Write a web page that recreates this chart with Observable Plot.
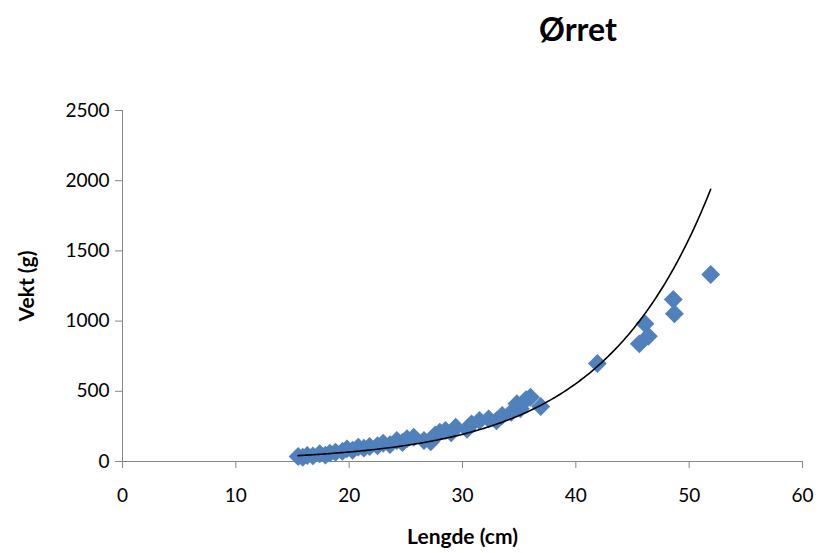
<!DOCTYPE html>
<html>
<head>
<meta charset="utf-8">
<script src="https://cdn.jsdelivr.net/npm/d3@7"></script>
<script src="https://cdn.jsdelivr.net/npm/@observablehq/plot@0.6"></script>
<style>
  html, body { margin: 0; padding: 0; background: #fff; }
  #wrap { width: 819px; height: 553px; position: relative; font-family: Lato, "Open Sans", sans-serif; }
  #title { position: absolute; left: 0; top: 0; width: 819px; height: 60px; }
  #title span { position: absolute; left: 578px; top: 9px; transform: translateX(-50%); font-size: 32px; font-weight: bold; color: #000; }
  #chart { position: absolute; left: 0; top: 60px; }
  #chart svg [aria-label="x-axis label"] text, #chart svg [aria-label="y-axis label"] text { font-weight: bold; font-size: 21px; }
</style>
</head>
<body>
<div id="wrap">
  <div id="title"><span>Ørret</span></div>
  <div id="chart"></div>
</div>
<script>
// Data
const lengths = [15.5, 15.9, 16.3, 16.8, 17.4, 17.9, 18.3, 18.8, 19.4, 19.8, 20.3, 20.8, 21.3, 21.8, 22.5, 23.0, 23.6, 24.2, 24.7, 25.1, 25.7, 26.6, 27.2, 27.6, 28.0, 28.5, 29.0, 29.4, 30.4, 30.8, 31.5, 32.3, 33.0, 33.5, 34.3, 34.8, 35.1, 35.6, 36.0, 36.9, 41.9, 45.6, 46.1, 46.4, 48.6, 48.7, 51.9];
const weights = [36, 30, 43, 40, 55, 45, 60, 66, 72, 90, 80, 102, 95, 107, 112, 130, 120, 150, 135, 162, 173, 150, 140, 190, 209, 221, 205, 244, 230, 268, 292, 304, 290, 328, 350, 411, 375, 440, 458, 392, 698, 838, 981, 892, 1154, 1052, 1332];
// Exponential trendline y = trendA * exp(trendB * x)
const trendA = 8.25;
const trendB = 0.1052;
const xTicks = [0, 10, 20, 30, 40, 50, 60];
const yTicks = [0, 500, 1000, 1500, 2000, 2500];
const title = "Ørret";
const xLabel = "Lengde (cm)";
const yLabel = "Vekt (g)";

const points = lengths.map((l, i) => ({l, w: weights[i]}));
const xMin = d3.min(lengths), xMax = d3.max(lengths);
const trend = d3.range(0, 201).map(i => {
  const l = xMin + (xMax - xMin) * i / 200;
  return {l, w: trendA * Math.exp(trendB * l)};
});

const axisColor = "#868686";
const chart = Plot.plot({
  width: 819,
  height: 493,
  marginLeft: 122,
  marginRight: 17,
  marginTop: 50,
  marginBottom: 92,
  style: {fontFamily: "Lato, 'Open Sans', sans-serif", fontSize: "19px", color: "#000", background: "#fff"},
  x: {domain: [0, 60]},
  y: {domain: [0, 2500]},
  marks: [
    Plot.ruleY([0], {stroke: axisColor, strokeWidth: 1}),
    Plot.ruleX([0], {stroke: axisColor, strokeWidth: 1}),
    Plot.axisX({ticks: xTicks, tickSize: 7, tickPadding: 20, stroke: axisColor, color: "#000", tickFormat: d3.format("d"),
      label: xLabel, labelAnchor: "center", labelArrow: "none", labelOffset: 82}),
    Plot.axisY({ticks: yTicks, tickSize: 7, tickPadding: 6, stroke: axisColor, color: "#000", tickFormat: d3.format("d"),
      label: yLabel, labelAnchor: "center", labelArrow: "none", labelOffset: 103}),
    Plot.dot(points, {x: "l", y: "w", symbol: "diamond2", r: 8.5, fill: "#4F81BD", stroke: "none"}),
    Plot.line(trend, {x: "l", y: "w", stroke: "#000", strokeWidth: 1.6, curve: "linear"})
  ]
});
document.getElementById("chart").appendChild(chart);
document.querySelector("#title span").textContent = title;
</script>
</body>
</html>
